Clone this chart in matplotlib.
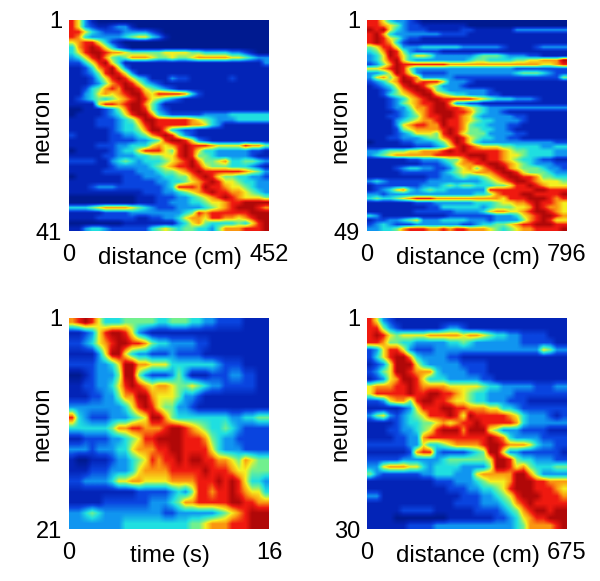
import numpy as np
import matplotlib
matplotlib.use("Agg")
import matplotlib.pyplot as plt
from matplotlib.colors import LinearSegmentedColormap

# activity levels per neuron: one digit (0-9) per spatial/time bin
panel_a = [
"863100000000000000000000000000","863211233100000000000000000000","886432223333210000000000000000",
"874333334566431000000000000000","678864210000000000000000000000","478986421000000000000000000000",
"468998776555556666554444332100","346897545777655655677777665433","224689641111111111111111111113",
"112478963111111111111111111111","112358986311111111111111111111","111246898643111322111111211111",
"111235789864321111111111111111","112457879986543211111111111111","113467678997688887421111111111",
"123454567898654321111111111111","111168878997531111111111111111","001112357998532111111111111111",
"011112346899743222223333444444","111122234579988888765433344444","111122234468988888776431111111",
"111111234457997432211111111111","211111223345789853211111111111","111111222233458998632111111111",
"111122233444676789888766668775","011111234468886589864433333221","111112233344556689855433333211",
"222211345434445678975567445543","111111233333456788986555444321","111112222233345567898888887653",
"011111112223334455789865544332","111111112222233445678986654433","111233322222223488879887665433",
"111111111112223345678988776543","000000000011122233456789876665","000000000011122333445667889999",
"444567777654322233334567899987","111112222333333334587888888999","111122222211223346776887767899",
"000000001111111134675444454689","113443222222456545544357778889",
]
panel_b = [
"886433210000000000000000000000","887653221111111000000000000000","989643222111112211111133333333",
"897433333332222111111111111111","898653221111111111111111111111","898742111111111111111111111111",
"568863334444443333332111123333","457985322221111111111111111111","346986466533333345554333221111",
"346896433333333455444455667779","235798888888777777777777776678","667898533333333333333322222222",
"334698632222333333333345554322","367579873333322222222222222225","234679978886333211111111111111",
"123468998653332111111111111111","112357899854333333211111111111","112456789976544333221111111111",
"111234678998888876544433321111","111235678899733221111111111111","111233577899887654333333333333",
"111123467899988754332111111111","111223457889987643333322111111","111134567789887654433332111111",
"111136788779887544333221111111","111125677778987554433211111111","111123466658986555333322111111",
"111223334557898654433221111111","011112233345798643333333333322","111111122234689876665544443344",
"334555667778989888887655444433","345677777788888999887665444433","111111223334557889887654432211",
"111111112223467788998765433322","111123443322356757899765554332","111112222223456677789986555433",
"111111111223345445678998875544","343222222333333334567899876665","122222223334545544455688987666",
"123467434544333333888888899888","332333333333333344578889988889","454456788877777777776888999878",
"111111122233333344456677898876","111111111224444443455566798776","111111122222233334677667899876",
"431111111111222222233346789987","122334563334444333233335789866","234322233333332234455678899988",
"334457888778788777654567788889",
]
panel_c = [
"789864445555544555443322221111","112368998632111111111111111111","223467899887544333322111111111",
"111136996433222322221111111111","222233469977666444444432221111","001233359953222353111222332211",
"112233468987677655654332222211","111223357799766653321111111111","333333334689865533211111111111",
"843222333456997544444444334455","444444577887778998765445432222","112222334568899998887543322222",
"333233344677788998888643332222","100111233456878898998877657655","111222333467777888889888766555",
"223333466776666777788898986443","111111111122222343588788987664","111112222222333457788888998877",
"334543333333332233333345678999","333333334444444444556777888999",
]
panel_d = [
"863211111111111111111111111111","885321111112332111111111111111","898656666777776776544332222111",
"887554433333445433333332222211","236886322233333333333333336533","246899743333221111111111111111",
"123699964333332222111111111111","235699877743333222111111111111","123679986444333332211111111111",
"677788987777666665443333322233","688888988998876544333322222222","223677589988766544333222111111",
"111112368889988777664432222222","356323456888986988888764333212","111123445567678898888874333333",
"111223345689997999653332222111","111122337888888888987433332222","222222336445677778998777643322",
"111111278832222345996332222221","222223333334555555699854433322","336777664344443333599867544455",
"532222223344433367777799753333","111111111122233345666799988777","111111111111222334456899988876",
"331111111111112223345689998887","111111111111122223334578988888","111112222211111122223457899899",
"111100000000111111122346788999","111111222233333333333345777789",
]
tick_max = [452, 796, 16, 675]
row_counts = [41, 49, 21, 30]
x_names = ["distance (cm)", "distance (cm)", "time (s)", "distance (cm)"]
y_name = "neuron"
panels = [panel_a, panel_b, panel_c, panel_d]

plt.rcParams['font.family'] = ['Liberation Sans', 'DejaVu Sans']
W, H = 600, 581
fig = plt.figure(figsize=(W/100, H/100), dpi=100, facecolor='white')

level_colors = ['#001a90', '#0425b8', '#0a45e0', '#1095f0', '#20e0e0', '#70f090',
                '#f5f020', '#fb9a10', '#f01a10', '#b00808']
cmap = LinearSegmentedColormap.from_list('lv', level_colors, N=256)

boxes = [(69, 19.5, 200, 212), (367, 19.5, 200, 212), (69, 317.5, 200, 212), (367, 317.5, 200, 212)]
for rows, tm, rc, xn, (x, y, w, h) in zip(panels, tick_max, row_counts, x_names, boxes):
    ax = fig.add_axes([x/W, 1-(y+h)/H, w/W, h/H])
    data = np.array([[int(ch) for ch in r] for r in rows], dtype=float)
    ax.imshow(data, cmap=cmap, vmin=0, vmax=9, aspect='auto', interpolation='bilinear',
              extent=[0, tm, rc, 1])
    for s in ax.spines.values():
        s.set_visible(False)
    ax.set_xticks([0, tm])
    ax.set_xticklabels(['0', str(tm)], fontsize=17)
    ax.set_yticks([1, rc])
    ax.set_yticklabels(['1', str(rc)], fontsize=17)
    ax.tick_params(axis='x', length=0, pad=9)
    ax.tick_params(axis='y', length=0, pad=5)
    ax.set_xlabel(xn, fontsize=17.3)
    ax.xaxis.set_label_coords(0.505, -0.075)
    ax.set_ylabel(y_name, fontsize=17.3)
    ax.yaxis.set_label_coords(-0.08, 0.5)

fig.savefig('out.png', dpi=100)
